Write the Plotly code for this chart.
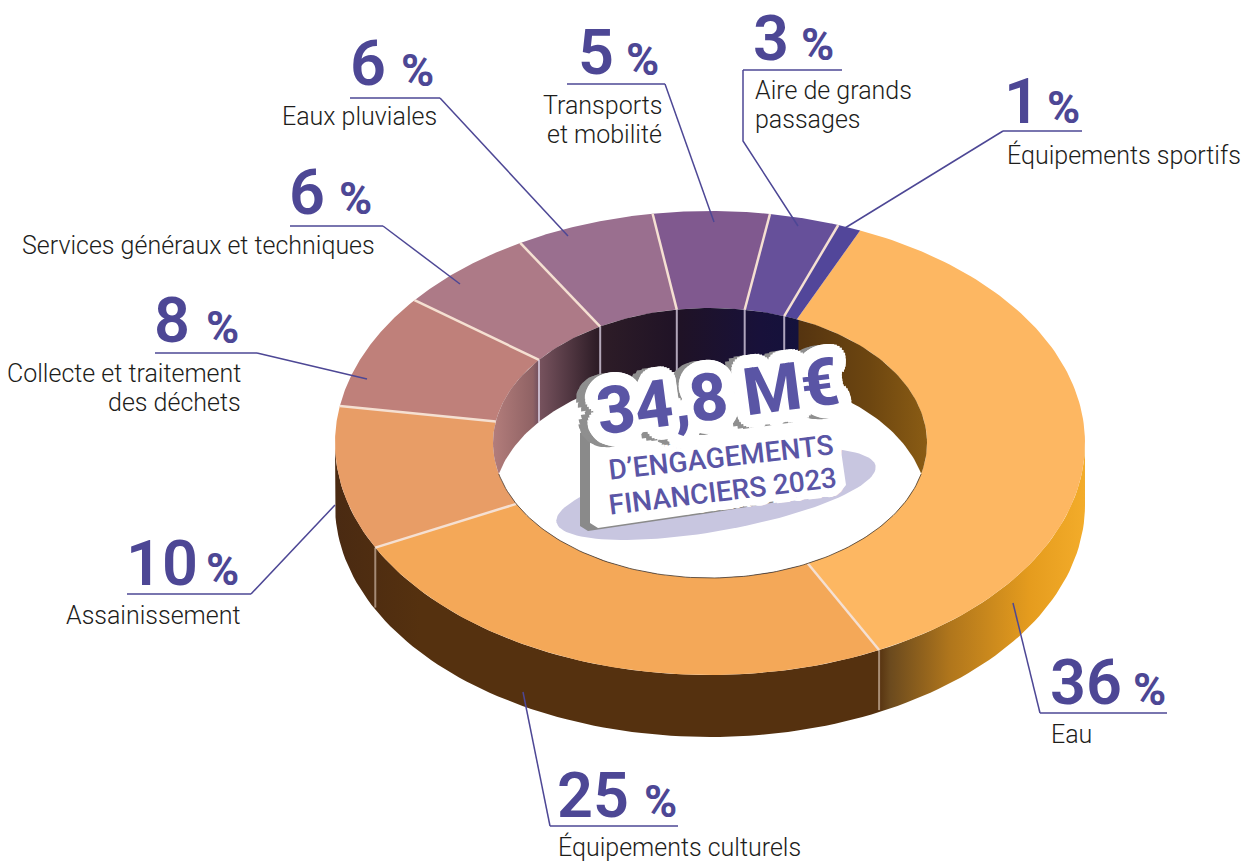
import math
import plotly.graph_objects as go

# ---- data ----
categories = ["Eau", "Équipements culturels", "Assainissement",
              "Collecte et traitement<br>des déchets", "Services généraux et techniques",
              "Eaux pluviales", "Transports<br>et mobilité",
              "Aire de grands<br>passages", "Équipements sportifs"]
values = [36, 25, 10, 8, 6, 6, 5, 3, 1]
center_lines = ["34,8 M€", "D’ENGAGEMENTS", "FINANCIERS 2023"]

# ---- style / layout ----
slice_colors = ["#fdb762", "#f4a858", "#e89d66", "#bf807a", "#ad7a87", "#9a6f8f", "#80598f", "#66509a", "#52469a"]
CX, CY, RX, RY, IRX, IRY, T = 710, 443, 375, 232, 217, 135, 62
START = 23.6
PURPLE = "#4d4795"
BODY = "Roboto"

def pt(rx, ry, deg, dy=0):
    a = math.radians(deg)
    return CX + rx * math.sin(a), CY - ry * math.cos(a) + dy

def arc(rx, ry, a, b, dy=0, n=120):
    p = [pt(rx, ry, a + (b - a) * i / n, dy) for i in range(n + 1)]
    return [q[0] for q in p], [q[1] for q in p]

def stops(x0, x1, pairs):
    return [[(x - x0) / (x1 - x0), c] for x, c in pairs]

fig = go.Figure()

def poly(xs, ys, color=None, grad=None):
    kw = dict(x=xs, y=ys, mode="lines", fill="toself", hoverinfo="skip", showlegend=False,
              line=dict(width=0, color="rgba(0,0,0,0)"))
    if grad:
        kw["fillgradient"] = dict(type="horizontal", colorscale=grad[0], start=grad[1], stop=grad[2])
    else:
        kw["fillcolor"] = color
    fig.add_trace(go.Scatter(**kw))

def seg(xs, ys, color, w):
    fig.add_trace(go.Scatter(x=xs, y=ys, mode="lines", hoverinfo="skip", showlegend=False,
                             line=dict(color=color, width=w)))

# outer side wall
ax, ay = arc(RX, RY, 90, 270)
bx, by = arc(RX, RY, 270, 90, dy=T)
side = stops(335, 1085, [(335, "#4a2a12"), (420, "#55310f"), (878, "#55310f"), (890, "#6b4a1e"),
                         (950, "#b0761c"), (1030, "#e59c1e"), (1085, "#f3ac2a")])
poly(ax + bx, ay + by, grad=(side, 335, 1085))

# slices on top face
edges = [START]
for v in values:
    edges.append(edges[-1] + v * 3.6)
for i, v in enumerate(values):
    ox, oy = arc(RX, RY, edges[i], edges[i + 1])
    ix, iy = arc(IRX, IRY, edges[i + 1], edges[i])
    poly(ox + ix, oy + iy, color=slice_colors[i])

# inner wall
wx, wy = arc(IRX, IRY, 0, 360, n=240)
wall = stops(493, 927, [(493, "#b37d7b"), (533, "#8f6264"), (537, "#7a5560"), (597, "#2e1d27"),
                        (680, "#1f1226"), (760, "#18113a"), (798, "#14123c"), (799, "#553410"),
                        (870, "#6d4610"), (927, "#8a5c14")])
poly(wx, wy, grad=(wall, 493, 927))

# dividers (top face, side, inner wall)
for e in edges[1:-1]:
    o = pt(RX, RY, e)
    n = pt(IRX, IRY, e)
    seg([n[0], o[0]], [n[1], o[1]], "#f5e0d2", 2.5)
    c = math.cos(math.radians(e))
    if c < -0.3:
        seg([o[0], o[0]], [o[1], o[1] + T - 2], "rgba(235,215,200,0.55)", 2)
    if c > 0.3:
        seg([n[0], n[0]], [n[1], n[1] + T], "rgba(225,215,235,0.75)", 2)

# white hole: lens between the lower inner rim and the upper rim dropped by the thickness
th0 = math.degrees(math.acos(-T / (2 * IRY)))
th1 = math.degrees(math.acos(T / (2 * IRY)))
hx, hy = arc(IRX, IRY, th0, 360 - th0)
ux, uy = arc(IRX, IRY, 360 - th1, 360 + th1, dy=T)
poly(hx + ux, hy + uy, color="#ffffff")
seg(hx, hy, "rgba(70,50,30,0.75)", 1)

# lavender shadow under the centre block
sa = math.radians(-10)
sx, sy = [], []
for i in range(121):
    t = 2 * math.pi * i / 120
    px, py = 162 * math.cos(t), 37 * math.sin(t)
    sx.append(716 + px * math.cos(sa) - py * math.sin(sa))
    sy.append(494 + px * math.sin(sa) + py * math.cos(sa))
poly(sx, sy, color="#c8c6e0")

# centre block lower body: grey extrusion then white face
block_x = [590, 650, 720, 838, 836, 846, 842, 720, 598, 590]
block_y = [430, 422, 412, 396, 416, 485, 490, 510, 528, 523]
poly([x - 10 for x in block_x], [y + 3 for y in block_y], color="#8a8a8a")
poly(block_x, block_y, color="#ffffff")

# leader lines
leaders = [
    ([1040, 1167], [713, 713], [1013, 1040], [603, 713]),
    ([550, 678], [826, 826], [523, 550], [692, 826]),
    ([127, 251], [594, 594], [251, 335], [594, 505]),
    ([155, 257], [353, 353], [257, 367], [353, 379]),
    ([290, 383], [226, 226], [383, 460], [226, 284]),
    ([350, 440], [98, 98], [440, 568], [98, 236]),
    ([567, 665], [84, 84], [665, 714], [84, 222]),
    ([743, 842], [70, 70], [743, 743, 798], [70, 141, 226]),
    ([1003, 1082], [131, 131], [1003, 845], [131, 228]),
]
for x1, y1, x2, y2 in leaders:
    seg(x1, y1, PURPLE, 1.5)
    seg(x2, y2, PURPLE, 1.5)

annotations = []
def note(x, y, text, size, color, anchor="left", weight=None, angle=0, family=BODY, shadow=None):
    font = dict(family=family, size=size, color=color, weight=weight)
    if shadow:
        font["shadow"] = shadow
    annotations.append(dict(x=x, y=y, xref="x", yref="y", text=text, showarrow=False,
                            xanchor=anchor, yanchor="middle", textangle=angle, font=font))

# (digit x, digit y, percent x, percent y, label x, first line y, label anchor)
label_pos = [
    (1048, 682, 1131, 689, 1049, 734, "left"),
    (555, 795, 642, 801, 556, 847, "left"),
    (124, 563, 204, 569, 243, 615, "right"),
    (152, 320, 204, 327, 243, 373, "right"),
    (287, 192, 337, 198, 377, 245, "right"),
    (348, 63, 399, 70, 439, 116, "right"),
    (576, 52, 624, 59, 664, 105, "right"),
    (751, 38, 799, 44, 753, 90, "left"),
    (1002, 101, 1045, 107, 1005, 155, "left"),
]
LINE_GAP = 29
for v, c, (dx, dy, px, py, lx, ly, an) in zip(values, categories, label_pos):
    note(dx, dy, str(v), 63, PURPLE, weight=600)
    note(px, py, "%", 45, PURPLE, weight=700)
    for k, part in enumerate(c.split("<br>")):
        note(lx, ly + k * LINE_GAP, part, 25, "#1d1d1b", anchor=an, weight=300)

def ring(r, ox, oy, color, n=28):
    return [f"{ox + r * math.cos(2 * math.pi * i / n):.1f}px {oy + r * math.sin(2 * math.pi * i / n):.1f}px 0 {color}"
            for i in range(n)]

title_shadow = ", ".join(ring(13, 0, 0, "#ffffff") + ring(7, 0, 0, "#ffffff", 14)
                         + ring(13, -9, 0, "#8f8f8f", 16))
sub_shadow = ", ".join(ring(9, 0, 0, "#ffffff", 16))
note(718, 396, center_lines[0], 66, "#5a55a5", anchor="center", weight=800, angle=-7.5, shadow=title_shadow)
note(722, 491, center_lines[2], 28, "#5a55a5", anchor="center", weight=500, angle=-7, shadow=sub_shadow)
note(721, 457, center_lines[1], 28, "#5a55a5", anchor="center", weight=500, angle=-6.5, shadow=sub_shadow)

fig.update_layout(
    width=1244, height=861, margin=dict(l=0, r=0, t=0, b=0),
    paper_bgcolor="white", plot_bgcolor="white", showlegend=False,
    xaxis=dict(range=[0, 1244], visible=False, fixedrange=True),
    yaxis=dict(range=[861, 0], visible=False, fixedrange=True),
    annotations=annotations,
)
fig.write_html("out.html", config={"displayModeBar": False},
               post_script="document.body.style.margin='0';")
